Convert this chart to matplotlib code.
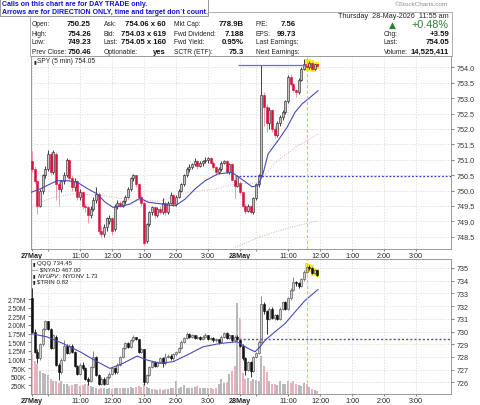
import matplotlib as mpl
import matplotlib.pyplot as plt
import numpy as np
from matplotlib.patches import Rectangle, Polygon

mpl.use("Agg")
plt.rcParams["font.family"] = ["Liberation Sans", "DejaVu Sans"]

W, H = 480, 406

# ---- data (5-min bars, 27May 9:30 .. 28May 11:55) ----
spy_open = [
    750.95, 750.7, 750.3, 749.5, 750.0, 750.5, 750.7, 751.2, 750.6, 751.2, 750.2, 750.05,
    750.3, 750.5, 751.0, 750.4, 750.1, 750.3, 749.8, 749.95, 749.5, 749.45, 749.2, 749.4,
    749.7, 749.9, 748.7, 748.6, 748.8, 749.0, 749.1, 748.75, 749.5, 749.6, 749.5, 749.65,
    749.8, 750.05, 750.4, 750.5, 750.2, 749.8, 749.6, 748.35, 748.9, 749.3, 749.45, 749.2,
    749.4, 749.3, 749.6, 749.3, 749.6, 749.85, 749.55, 749.8, 750.0, 750.2, 750.5, 750.7,
    750.75, 750.85, 750.95, 750.8, 750.9, 750.95, 751.0, 751.05, 750.9, 750.75, 750.6, 750.7,
    750.9, 750.95, 750.6, 750.85, 750.35, 750.15,
    750.25, 749.95, 749.5, 749.35, 749.5, 749.3, 749.75, 750.2, 750.5, 753.1, 752.7, 752.2,
    752.6, 752.0, 751.8, 752.2, 752.4, 752.55, 752.9, 753.7, 753.45, 753.25, 753.2, 753.6,
    753.95, 754.1, 754.0, 754.15, 753.95, 754.1,
]
spy_high = [
    751.29, 750.8, 750.35, 750.05, 750.55, 750.8, 751.3, 751.25, 751.32, 751.25, 750.3, 750.35,
    750.6, 751.05, 751.02, 750.5, 750.4, 750.35, 750.05, 750.0, 749.6, 749.5, 749.5, 749.8,
    750.1, 749.95, 748.85, 748.9, 749.15, 749.2, 749.15, 749.55, 749.7, 749.65, 749.7, 749.85,
    750.1, 750.45, 750.55, 750.52, 750.25, 749.85, 749.65, 748.95, 749.35, 749.5, 749.5, 749.45,
    749.5, 749.75, 749.65, 749.65, 749.95, 749.9, 749.85, 750.05, 750.25, 750.55, 750.75, 750.85,
    750.9, 751.05, 751.0, 750.95, 751.0, 751.1, 751.08, 751.08, 750.95, 750.8, 750.75, 750.95,
    751.0, 751.0, 750.9, 750.9, 750.5, 750.5,
    750.3, 750.0, 749.55, 749.55, 749.52, 749.8, 750.25, 750.55, 754.07, 753.2, 752.8, 752.7,
    752.65, 752.1, 752.25, 752.45, 752.6, 752.95, 753.75, 753.8, 753.5, 753.3, 753.65, 754.0,
    754.26, 754.2, 754.2, 754.18, 754.12, 754.12,
]
spy_low = [
    750.6, 750.25, 749.24, 749.45, 749.9, 750.4, 750.65, 750.5, 750.55, 749.7, 749.5, 749.95,
    750.2, 750.45, 750.3, 750.0, 750.0, 749.7, 749.7, 749.4, 749.3, 748.95, 749.1, 749.35,
    749.6, 748.6, 748.45, 748.5, 748.7, 748.9, 748.55, 748.7, 749.4, 749.45, 749.45, 749.55,
    749.75, 750.0, 750.3, 750.1, 749.7, 749.5, 748.22, 748.3, 748.85, 749.2, 749.1, 749.15,
    749.25, 749.25, 749.2, 749.25, 749.55, 749.5, 749.5, 749.75, 749.95, 750.15, 750.45, 750.6,
    750.7, 750.8, 750.7, 750.75, 750.8, 750.9, 750.9, 750.85, 750.7, 750.5, 750.55, 750.65,
    750.85, 750.55, 750.55, 750.35, 749.75, 750.1,
    749.9, 749.45, 749.23, 749.3, 749.23, 749.25, 749.7, 750.1, 750.45, 752.1, 751.9, 752.0,
    751.9, 751.7, 751.75, 752.1, 752.3, 752.5, 752.85, 753.4, 753.2, 753.05, 753.15, 753.55,
    753.9, 753.95, 753.95, 753.9, 753.9, 754.0,
]
spy_close = [
    750.7, 750.3, 749.5, 750.0, 750.5, 750.7, 751.2, 750.6, 751.25, 750.2, 750.05, 750.3,
    750.5, 751.0, 750.4, 750.1, 750.3, 749.8, 749.95, 749.5, 749.45, 749.2, 749.4, 749.7,
    749.9, 748.7, 748.6, 748.8, 749.1, 749.1, 748.7, 749.5, 749.6, 749.5, 749.65, 749.8,
    750.05, 750.4, 750.5, 750.2, 749.8, 749.6, 748.3, 748.9, 749.3, 749.45, 749.2, 749.4,
    749.3, 749.6, 749.3, 749.6, 749.85, 749.55, 749.8, 750.0, 750.2, 750.5, 750.7, 750.75,
    750.85, 750.95, 750.8, 750.9, 750.95, 751.0, 751.05, 750.9, 750.75, 750.6, 750.7, 750.9,
    750.95, 750.6, 750.85, 750.35, 750.15, 750.46,
    749.95, 749.5, 749.35, 749.5, 749.3, 749.75, 750.2, 750.5, 753.1, 752.7, 752.2, 752.6,
    752.0, 751.8, 752.2, 752.4, 752.55, 752.9, 753.7, 753.45, 753.25, 753.2, 753.6, 753.95,
    754.1, 754.0, 754.15, 753.95, 754.1, 754.05,
]

qqq_open = [
    732.6, 730.0, 728.4, 727.9, 729.0, 730.2, 730.8, 730.2, 728.7, 729.6, 727.4, 726.8,
    727.8, 728.9, 728.3, 728.9, 728.4, 727.3, 726.7, 727.4, 727.1, 726.3, 726.1, 727.2,
    728.0, 726.6, 725.9, 726.3, 725.9, 726.4, 726.7, 727.1, 726.8, 727.4, 728.0, 728.7,
    729.1, 728.8, 729.3, 729.55, 729.4, 728.4, 728.6, 726.0, 726.6, 727.2, 727.6, 727.3,
    727.6, 727.9, 727.5, 728.0, 728.1, 727.9, 728.2, 728.4, 728.7, 729.2, 729.5, 729.8,
    729.6, 729.7, 729.5, 729.6, 729.4, 729.6, 729.7, 729.4, 729.5, 729.3, 729.4, 729.2,
    729.6, 729.9, 729.5, 729.7, 729.3, 729.6,
    729.3, 728.9, 727.9, 727.0, 727.6, 726.9, 728.0, 728.3, 729.2, 732.2, 731.6, 731.0,
    731.8, 731.1, 731.3, 731.0, 731.8, 732.3, 731.8, 732.6, 733.3, 733.9, 733.8, 733.6,
    734.1, 734.7, 735.1, 735.0, 734.6, 734.8,
]
qqq_high = [
    733.4, 730.2, 728.6, 729.1, 730.3, 730.9, 730.85, 730.3, 729.8, 729.7, 727.5, 727.9,
    729.3, 729.0, 729.0, 729.0, 728.5, 727.4, 727.5, 727.6, 727.2, 726.4, 727.3, 728.5,
    728.1, 726.7, 726.4, 726.4, 726.5, 726.8, 727.2, 727.2, 727.5, 728.1, 728.8, 729.2,
    729.2, 729.4, 729.7, 729.6, 729.45, 728.7, 728.65, 726.7, 727.3, 727.7, 727.7, 727.7,
    728.0, 728.0, 728.3, 728.2, 728.2, 728.3, 728.5, 728.8, 729.3, 729.6, 730.0, 729.9,
    729.8, 729.75, 729.7, 729.65, 729.7, 729.9, 729.75, 729.6, 729.55, 729.5, 729.45, 729.7,
    730.0, 729.95, 729.8, 729.75, 729.7, 729.7,
    729.4, 729.0, 728.0, 727.7, 727.7, 728.1, 728.4, 729.3, 732.8, 732.3, 731.7, 731.9,
    731.9, 731.4, 731.4, 731.9, 732.4, 732.4, 732.7, 733.4, 734.3, 734.0, 733.9, 734.2,
    734.8, 735.3, 735.2, 735.1, 734.9, 734.85,
]
qqq_low = [
    729.9, 728.3, 727.5, 727.8, 728.9, 730.1, 730.1, 728.6, 728.6, 727.3, 726.2, 726.7,
    727.7, 728.2, 728.2, 728.3, 727.2, 726.6, 726.6, 727.0, 726.2, 725.8, 726.0, 727.1,
    726.5, 725.8, 725.8, 725.8, 725.85, 726.3, 726.6, 726.7, 726.7, 727.3, 727.9, 728.6,
    728.7, 728.7, 729.2, 729.3, 728.3, 728.3, 725.8, 725.9, 726.5, 727.1, 727.2, 727.2,
    727.5, 727.2, 727.4, 727.9, 727.8, 727.8, 728.1, 728.3, 728.6, 729.1, 729.4, 729.5,
    729.5, 729.4, 729.4, 729.3, 729.3, 729.5, 729.3, 729.3, 729.2, 729.2, 729.0, 729.1,
    729.5, 729.4, 729.4, 729.2, 729.2, 729.3,
    728.8, 727.8, 726.6, 726.9, 726.4, 726.8, 727.9, 728.2, 729.1, 731.4, 729.8, 730.9,
    731.0, 730.9, 730.9, 730.9, 731.7, 731.7, 731.7, 732.5, 733.2, 733.6, 733.4, 733.5,
    734.0, 734.6, 734.8, 734.5, 734.5, 734.4,
]
qqq_close = [
    730.0, 728.4, 727.9, 729.0, 730.2, 730.8, 730.2, 728.7, 729.7, 727.4, 726.8, 727.8,
    728.9, 728.3, 728.9, 728.4, 727.3, 726.7, 727.4, 727.1, 726.3, 726.1, 727.2, 728.0,
    726.6, 725.9, 726.3, 725.9, 726.4, 726.7, 727.1, 726.8, 727.4, 728.0, 728.7, 729.1,
    728.8, 729.3, 729.55, 729.4, 728.4, 728.6, 726.0, 726.6, 727.2, 727.6, 727.3, 727.6,
    727.9, 727.5, 728.0, 728.1, 727.9, 728.2, 728.4, 728.7, 729.2, 729.5, 729.8, 729.6,
    729.7, 729.5, 729.6, 729.4, 729.6, 729.7, 729.4, 729.5, 729.3, 729.4, 729.2, 729.6,
    729.9, 729.5, 729.7, 729.3, 729.6, 729.45,
    728.9, 727.9, 727.0, 727.6, 726.9, 728.0, 728.3, 729.2, 732.2, 731.6, 731.0, 731.8,
    731.1, 731.3, 731.0, 731.8, 732.3, 731.8, 732.6, 733.3, 733.9, 733.8, 733.6, 734.1,
    734.7, 735.1, 735.0, 734.6, 734.8, 734.45,
]

# volume in millions
volume = [
    1.15, 0.96, 0.86, 0.67, 0.62, 0.57, 0.55, 0.42, 0.38, 0.38, 0.33, 0.38,
    0.30, 0.28, 0.23, 0.25, 0.28, 0.28, 0.23, 0.25, 0.28, 0.30, 0.23, 0.20,
    0.18, 0.15, 0.18, 0.18, 0.15, 0.18, 0.15, 0.18, 0.18, 0.16, 0.18, 0.18,
    0.17, 0.20, 0.18, 0.20, 0.22, 0.20, 0.28, 0.20, 0.16, 0.14, 0.15, 0.13,
    0.14, 0.13, 0.15, 0.14, 0.18, 0.16, 0.37, 0.18, 0.20, 0.26, 0.18, 0.18,
    0.17, 0.20, 0.22, 0.18, 0.16, 0.18, 0.17, 0.18, 0.15, 0.18, 0.28, 0.42,
    0.33, 0.35, 0.57, 0.67, 0.80, 2.65,
    2.20, 0.62, 0.42, 0.45, 0.38, 0.42, 0.40, 0.38, 1.10, 0.81, 0.65, 0.38,
    0.30, 0.28, 0.25, 0.38, 0.30, 0.28, 0.38, 0.33, 0.38, 0.30, 0.25, 0.22,
    0.33, 0.28, 0.20, 0.15, 0.12, 0.10,
]

# moving averages read at sample bars
spy_ma_x = [-0.4, 3.0, 6.75, 9.4, 13.1, 16.9, 21.0, 24.4, 27.4, 30.4, 34.1, 36.7, 40.5, 43.5,
            48.7, 53.6, 57.4, 61.1, 64.9, 69.7, 75.0, 79.7, 82.5, 84.7, 86.6, 88.5, 92.2,
            95.6, 98.6, 101.2, 105.0, 107.2]
spy_ma_y = [749.94, 750.05, 750.21, 750.32, 750.32, 750.27, 750.05, 749.89, 749.62, 749.45,
            749.5, 749.56, 749.75, 749.62, 749.56, 749.5, 749.72, 750.05, 750.32, 750.54,
            750.59, 750.3, 750.12, 750.16, 750.54, 751.19, 751.62, 752.05, 752.54, 752.81,
            753.08, 753.24]
spy_ma2_x = [0.4, 6.75, 15.4, 25.5, 36.7, 48.0, 58.1, 68.6, 76.1, 84.7, 91.1, 98.6, 107.2]
spy_ma2_y = [749.5, 749.75, 749.89, 749.85, 749.7, 749.65, 749.94, 750.05, 750.21, 750.25,
             750.9, 751.4, 751.83]
spy_ma3_x = [76.1, 85.5, 96.7, 107.2]
spy_ma3_y = [748.15, 748.5, 748.8, 749.02]

qqq_ma_x = [-0.4, 5.6, 11.6, 18.0, 24.4, 29.2, 34.1, 39.4, 43.1, 48.0, 52.9, 58.1, 64.1,
            70.5, 76.9, 81.0, 83.6, 85.5, 87.4, 91.1, 94.9, 98.6, 102.4, 107.2]
qqq_ma_y = [729.84, 729.58, 729.06, 728.41, 727.63, 727.1, 727.5, 728.07, 727.76, 727.5,
            727.63, 728.15, 728.8, 729.06, 729.2, 728.67, 728.41, 728.8, 729.32, 729.98,
            730.63, 731.54, 732.45, 733.3]

spy_prev_close = 750.46
qqq_prev_close = 729.45
spy_level = 754.07

days = ["27May", "28May"]
hour_labels = ["", "11:00", "12:00", "1:00", "2:00", "3:00"]
BARS_PER_DAY = 78


def px(x, y):
    return x / W, 1 - y / H


def candles(ax, o, h, l, c, up_face, up_edge, dn_face, dn_edge, up_wick, dn_wick):
    o, h, l, c = map(np.asarray, (o, h, l, c))
    idx = np.arange(len(o))
    up = c >= o
    ax.vlines(idx[up], l[up], h[up], color=up_wick, lw=0.6, zorder=3)
    ax.vlines(idx[~up], l[~up], h[~up], color=dn_wick, lw=0.6, zorder=3)
    span = ax.get_ylim()[1] - ax.get_ylim()[0]
    body = np.maximum(np.abs(c - o), span * 0.006)
    bottom = np.minimum(o, c)
    ax.bar(idx[up], body[up], bottom=bottom[up], width=0.72, color=up_face,
           edgecolor=up_edge, lw=0.4, zorder=4)
    ax.bar(idx[~up], body[~up], bottom=bottom[~up], width=0.72, color=dn_face,
           edgecolor=dn_edge, lw=0.4, zorder=4)


def style_time_axis(ax):
    ticks, labels = [], []
    for d, day in enumerate(days):
        for k in range(7):
            ticks.append(d * BARS_PER_DAY + (k * 60 - 30 if k else 0) / 5)
            labels.append(day if k == 0 else hour_labels[k - 1])
    ax.set_xticks(ticks)
    ax.set_xticklabels(labels, fontsize=5.2, color="#222222")
    for t in ax.get_xticklabels():
        if t.get_text() in days:
            t.set_fontweight("bold")
    ax.set_xlim(-0.4, 157.1)
    ax.tick_params(axis="x", length=1.5, pad=0.8, color="#888888")
    ax.grid(True, color="#d4d4d4", linestyle=(0, (2, 2)), lw=0.5)
    for s in ax.spines.values():
        s.set_color("#8a8a8a")
        s.set_linewidth(0.6)


fig = plt.figure(figsize=(W / 100, H / 100), dpi=100)

# ---- header ----
fig.patches.append(Polygon([px(30, 13), px(452, 13), px(452, 57), px(30, 57)],
                           closed=True, fill=False, ec="#a0a0a0", lw=0.6,
                           transform=fig.transFigure, figure=fig))
fig.patches.append(Rectangle(px(0, 17), 208 / W, 17 / H, fc="white", ec="#9a9a9a",
                             lw=0.7, transform=fig.transFigure, figure=fig, zorder=5))
note_kw = dict(fontsize=5.0, fontweight="bold", color="#1010d0", va="center", zorder=6)
fig.text(*px(2, 4.5), "Calls on this chart are for DAY TRADE only.", **note_kw)
fig.text(*px(2, 12.5), "Arrows are for DIRECTION ONLY, time and target don`t count.", **note_kw)
fig.text(*px(448, 4.5), "\u00a9StockCharts.com", fontsize=4.6, color="#8a8a8a",
         ha="right", va="center")

rows_y = [25, 34, 43, 52]
lab_kw = dict(fontsize=4.8, color="#222222", va="center")
val_kw = dict(fontsize=5.6, color="#111111", va="center", ha="right", fontweight="bold")
table = [
    (32, 91, ["Open:", "High:", "Low:", "Prev Close:"], ["750.25", "754.26", "749.23", "750.46"]),
    (104, 166, ["Ask:", "Bid:", "Last:", "Optionable:"],
     ["754.06 x 60", "754.03 x 619", "754.05 x 160", "yes"]),
    (174, 244, ["Mkt Cap:", "Fwd Dividend:", "Fwd Yield:", "SCTR (ETF):"],
     ["778.9B", "7.188", "0.95%", "75.3"]),
    (256, 296, ["P/E:", "EPS:", "Last Earnings:", "Next Earnings:"], ["7.56", "99.73", "", ""]),
]
for lx, vx, labs, vals in table:
    for y, lab, val in zip(rows_y, labs, vals):
        fig.text(*px(lx, y), lab, **lab_kw)
        if val:
            fig.text(*px(vx, y), val, **val_kw)

fig.text(*px(449, 16.5), "Thursday  28-May-2026  11:55 am", fontsize=5.2, color="#222222",
         ha="right", va="center")
fig.text(*px(392, 25.5), "\u25b2", fontsize=6.5, color="#2e7d32", ha="center", va="center",
         family="DejaVu Sans")
fig.text(*px(449, 25), "+0.48%", fontsize=7.8, color="#2e7d32", ha="right", va="center")
for y, lab, val in zip(rows_y[1:], ["Chg:", "Last:", "Volume:"], ["+3.59", "754.05", "14,525,411"]):
    fig.text(*px(384, y), lab, **lab_kw)
    fig.text(*px(449, y), val, **val_kw)

# ---- top panel: SPY ----
ax1 = fig.add_axes([31 / W, 1 - 250 / H, 420 / W, 193 / H])
ax1.set_ylim(748.1, 754.37)
style_time_axis(ax1)
ax1.yaxis.tick_right()
ax1.set_yticks(np.arange(748.5, 754.01, 0.5))
ax1.set_yticklabels([f"{v:.1f}" for v in ax1.get_yticks()], fontsize=5.2, color="#333333")
ax1.tick_params(axis="y", length=2, pad=2, color="#888888")

hl = np.arange(103, len(spy_close))
ax1.bar(hl, np.array(spy_high)[hl] - np.array(spy_low)[hl] + 0.12,
        bottom=np.array(spy_low)[hl] - 0.06, width=1.15, color="#f4ee2a", zorder=2)
candles(ax1, spy_open, spy_high, spy_low, spy_close,
        "#c4c4c4", "#1a1a1a", "#d8123f", "#d8123f", "#222222", "#e88aa0")
ax1.plot(spy_ma_x, spy_ma_y, color="#4a4ab8", lw=0.8, zorder=5)
ax1.plot(spy_ma2_x, spy_ma2_y, color="#e8a8b8", lw=0.7, ls=(0, (1, 1.5)), zorder=2)
ax1.plot(spy_ma3_x, spy_ma3_y, color="#a8c8a0", lw=0.7, ls=(0, (1, 1.5)), zorder=2)
ax1.hlines(spy_prev_close, 77.5, 157.1, colors="#3a3ad0", linestyles=(0, (1.5, 1.5)), lw=0.9,
           zorder=5)
ax1.hlines(spy_level, 77.2, 102.4, colors="#6a6ae8", lw=0.9, zorder=5)
ax1.axvline(103, color="#f5c518", ls=(0, (3, 2)), lw=0.8, zorder=6)
fig.text(*px(33, 61.5), "\u25ae", fontsize=3.6, color="#222222", va="center", family="DejaVu Sans")
fig.text(*px(37, 61.5), "SPY (5 min) 754.05", fontsize=4.8, color="#222222", va="center")

# ---- bottom panel: volume + QQQ ----
rect2 = [31 / W, 1 - 395 / H, 420 / W, 135 / H]
axv = fig.add_axes(rect2)
vol_col = ["#e6b2bc" if c < o else "#b8b8b8" for o, c in zip(spy_open, spy_close)]
axv.bar(np.arange(len(volume)), volume, width=0.82, color=vol_col, zorder=1)
axv.set_ylim(0, 3.91)
axv.set_xlim(-0.4, 157.1)
vt = np.arange(0.25, 2.76, 0.25)
axv.set_yticks(vt)
axv.set_yticklabels([f"{v * 1000:.0f}K" if v < 1 else f"{v:.2f}M" for v in vt],
                    fontsize=4.8, color="#333333")
axv.tick_params(axis="y", length=2, pad=1.5, color="#888888")
axv.set_xticks([])
for s in axv.spines.values():
    s.set_visible(False)

ax2 = fig.add_axes(rect2)
ax2.patch.set_alpha(0)
ax2.set_ylim(725.09, 735.7)
style_time_axis(ax2)
ax2.yaxis.tick_right()
ax2.set_yticks(np.arange(726, 735.1, 1))
ax2.set_yticklabels([f"{v:.0f}" for v in ax2.get_yticks()], fontsize=5.2, color="#333333")
ax2.tick_params(axis="y", length=2, pad=2, color="#888888")

ax2.bar(hl, np.array(qqq_high)[hl] - np.array(qqq_low)[hl] + 0.2,
        bottom=np.array(qqq_low)[hl] - 0.1, width=1.15, color="#f4ee2a", zorder=2)
candles(ax2, qqq_open, qqq_high, qqq_low, qqq_close,
        "#cfcfcf", "#444444", "#111111", "#111111", "#777777", "#111111")
ax2.plot(qqq_ma_x, qqq_ma_y, color="#4a4ab8", lw=0.8, zorder=5)
ax2.hlines(qqq_prev_close, 77.5, 157.1, colors="#4a4ae0", linestyles=(0, (1.5, 1.5)), lw=1.0,
           zorder=5)
ax2.axvline(103, color="#f5c518", ls=(0, (3, 2)), lw=0.8, zorder=6)

leg_kw = dict(fontsize=4.4, color="#222222", va="center")
icon_kw = dict(fontsize=3.4, color="#222222", va="center", family="DejaVu Sans")
fig.text(*px(33, 264), "\u25ae", **icon_kw)
fig.text(*px(37, 264), "QQQ 734.45", **leg_kw)
fig.text(*px(32, 270), "\u2014 $NYAD 467.00", **leg_kw)
fig.text(*px(33, 276), "\u25ae", **icon_kw)
fig.text(*px(37, 276), "$NYUPV:$NYDNV 1.73", **leg_kw)
fig.text(*px(33, 282), "\u25ae", **icon_kw)
fig.text(*px(37, 282), "$TRIN 0.82", **leg_kw)

fig.savefig("out.png", dpi=100)
